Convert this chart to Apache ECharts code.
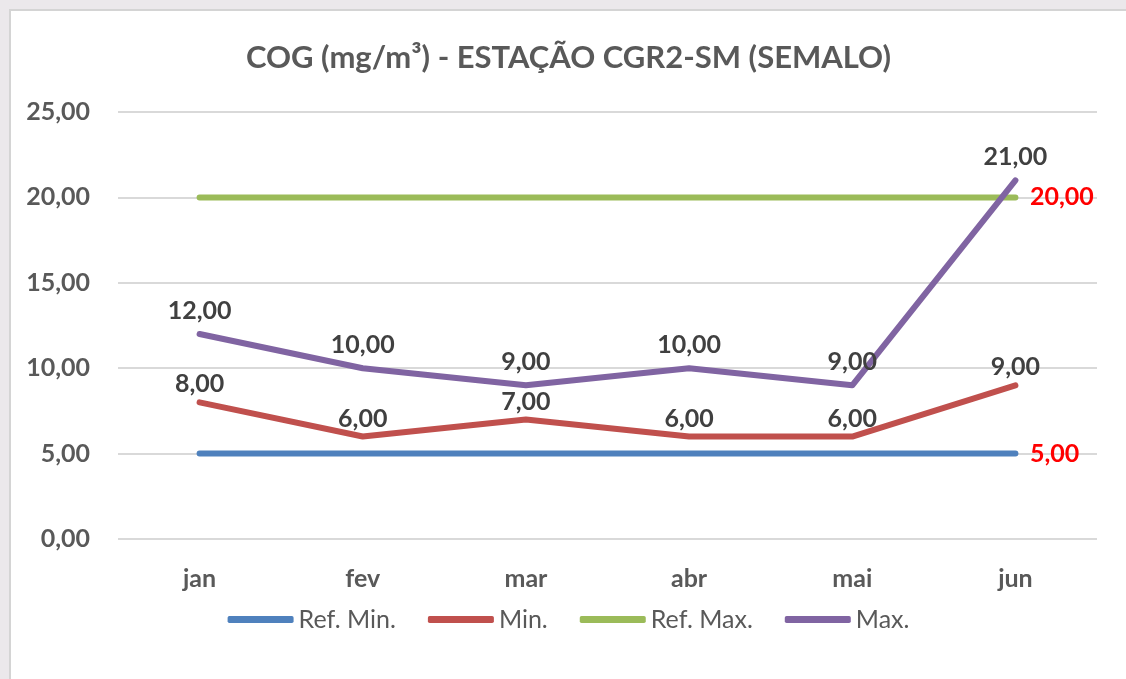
<!DOCTYPE html>
<html>
<head>
<meta charset="utf-8">
<script src="https://cdn.jsdelivr.net/npm/echarts@6/dist/echarts.min.js"></script>
<style>
    body{
        margin: 0;
        background-color: #ebe8eb;
    }
    #chart{
        position: absolute;
        left: 9px;
        top: 9px;
        width: 1115px;
        height: 668px;
        background-color: #ffffff;
        border-left: 2px solid #d4d4d4;
        border-top: 2px solid #d4d4d4;
    }
</style>
</head>
<body>
<div id="chart"></div>
<script>
    const months = ['jan', 'fev', 'mar', 'abr', 'mai', 'jun'];
    const refMin = [5, 5, 5, 5, 5, 5];
    const minVals = [8, 6, 7, 6, 6, 9];
    const refMax = [20, 20, 20, 20, 20, 20];
    const maxVals = [12, 10, 9, 10, 9, 21];
    const yTicks = {min: 0, max: 25, interval: 5};

    const font = 'Lato, "Open Sans", sans-serif';
    const fmt = v => v.toFixed(2).replace('.', ',');

    function refLabel(p){
        return p.dataIndex === months.length - 1 ? fmt(p.value) : '';
    }

    function lineSeries(name, data, color, refLine, dist){
        return {
            name: name,
            type: 'line',
            data: data,
            symbol: 'circle',
            symbolSize: 1,
            lineStyle: {width: 6, color: color, cap: 'round', join: 'round'},
            itemStyle: {color: color},
            label: refLine ? {
                show: true,
                position: 'right',
                distance: 14,
                formatter: refLabel,
                color: '#ff0000',
                fontFamily: font,
                fontWeight: 'bold',
                fontSize: 25
            } : {
                show: true,
                position: 'top',
                distance: dist,
                formatter: p => fmt(p.value),
                color: '#404040',
                fontFamily: font,
                fontWeight: 'bold',
                fontSize: 25
            },
            emphasis: {disabled: true}
        };
    }

    const chart = echarts.init(document.getElementById('chart'));
    chart.setOption({
        animation: false,
        title: {
            text: 'COG (mg/m³) - ESTAÇÃO CGR2-SM (SEMALO)',
            left: 'center',
            top: 26,
            textStyle: {color: '#595959', fontFamily: font, fontWeight: 'bold', fontSize: 31}
        },
        legend: {
            bottom: 42,
            left: 'center',
            icon: 'roundRect',
            itemWidth: 66,
            itemHeight: 7,
            itemGap: 32,
            textStyle: {color: '#595959', fontFamily: font, fontSize: 25},
            data: ['Ref. Min.', 'Min.', 'Ref. Max.', 'Max.']
        },
        grid: {left: 107, right: 29, top: 101, bottom: 140},
        xAxis: {
            type: 'category',
            data: months,
            axisLine: {show: false},
            axisTick: {show: false},
            axisLabel: {color: '#595959', fontFamily: font, fontWeight: 'bold', fontSize: 25, margin: 27}
        },
        yAxis: {
            type: 'value',
            min: yTicks.min,
            max: yTicks.max,
            interval: yTicks.interval,
            axisLabel: {color: '#595959', fontFamily: font, fontWeight: 'bold', fontSize: 25, margin: 28, formatter: fmt},
            splitLine: {lineStyle: {color: '#d9d9d9', width: 2}}
        },
        series: [
            lineSeries('Ref. Min.', refMin, '#4f81bd', true),
            lineSeries('Min.', minVals, '#c0504d', false, 5),
            lineSeries('Ref. Max.', refMax, '#9bbb59', true),
            lineSeries('Max.', maxVals, '#8064a2', false, 10)
        ]
    });
</script>
</body>
</html>
